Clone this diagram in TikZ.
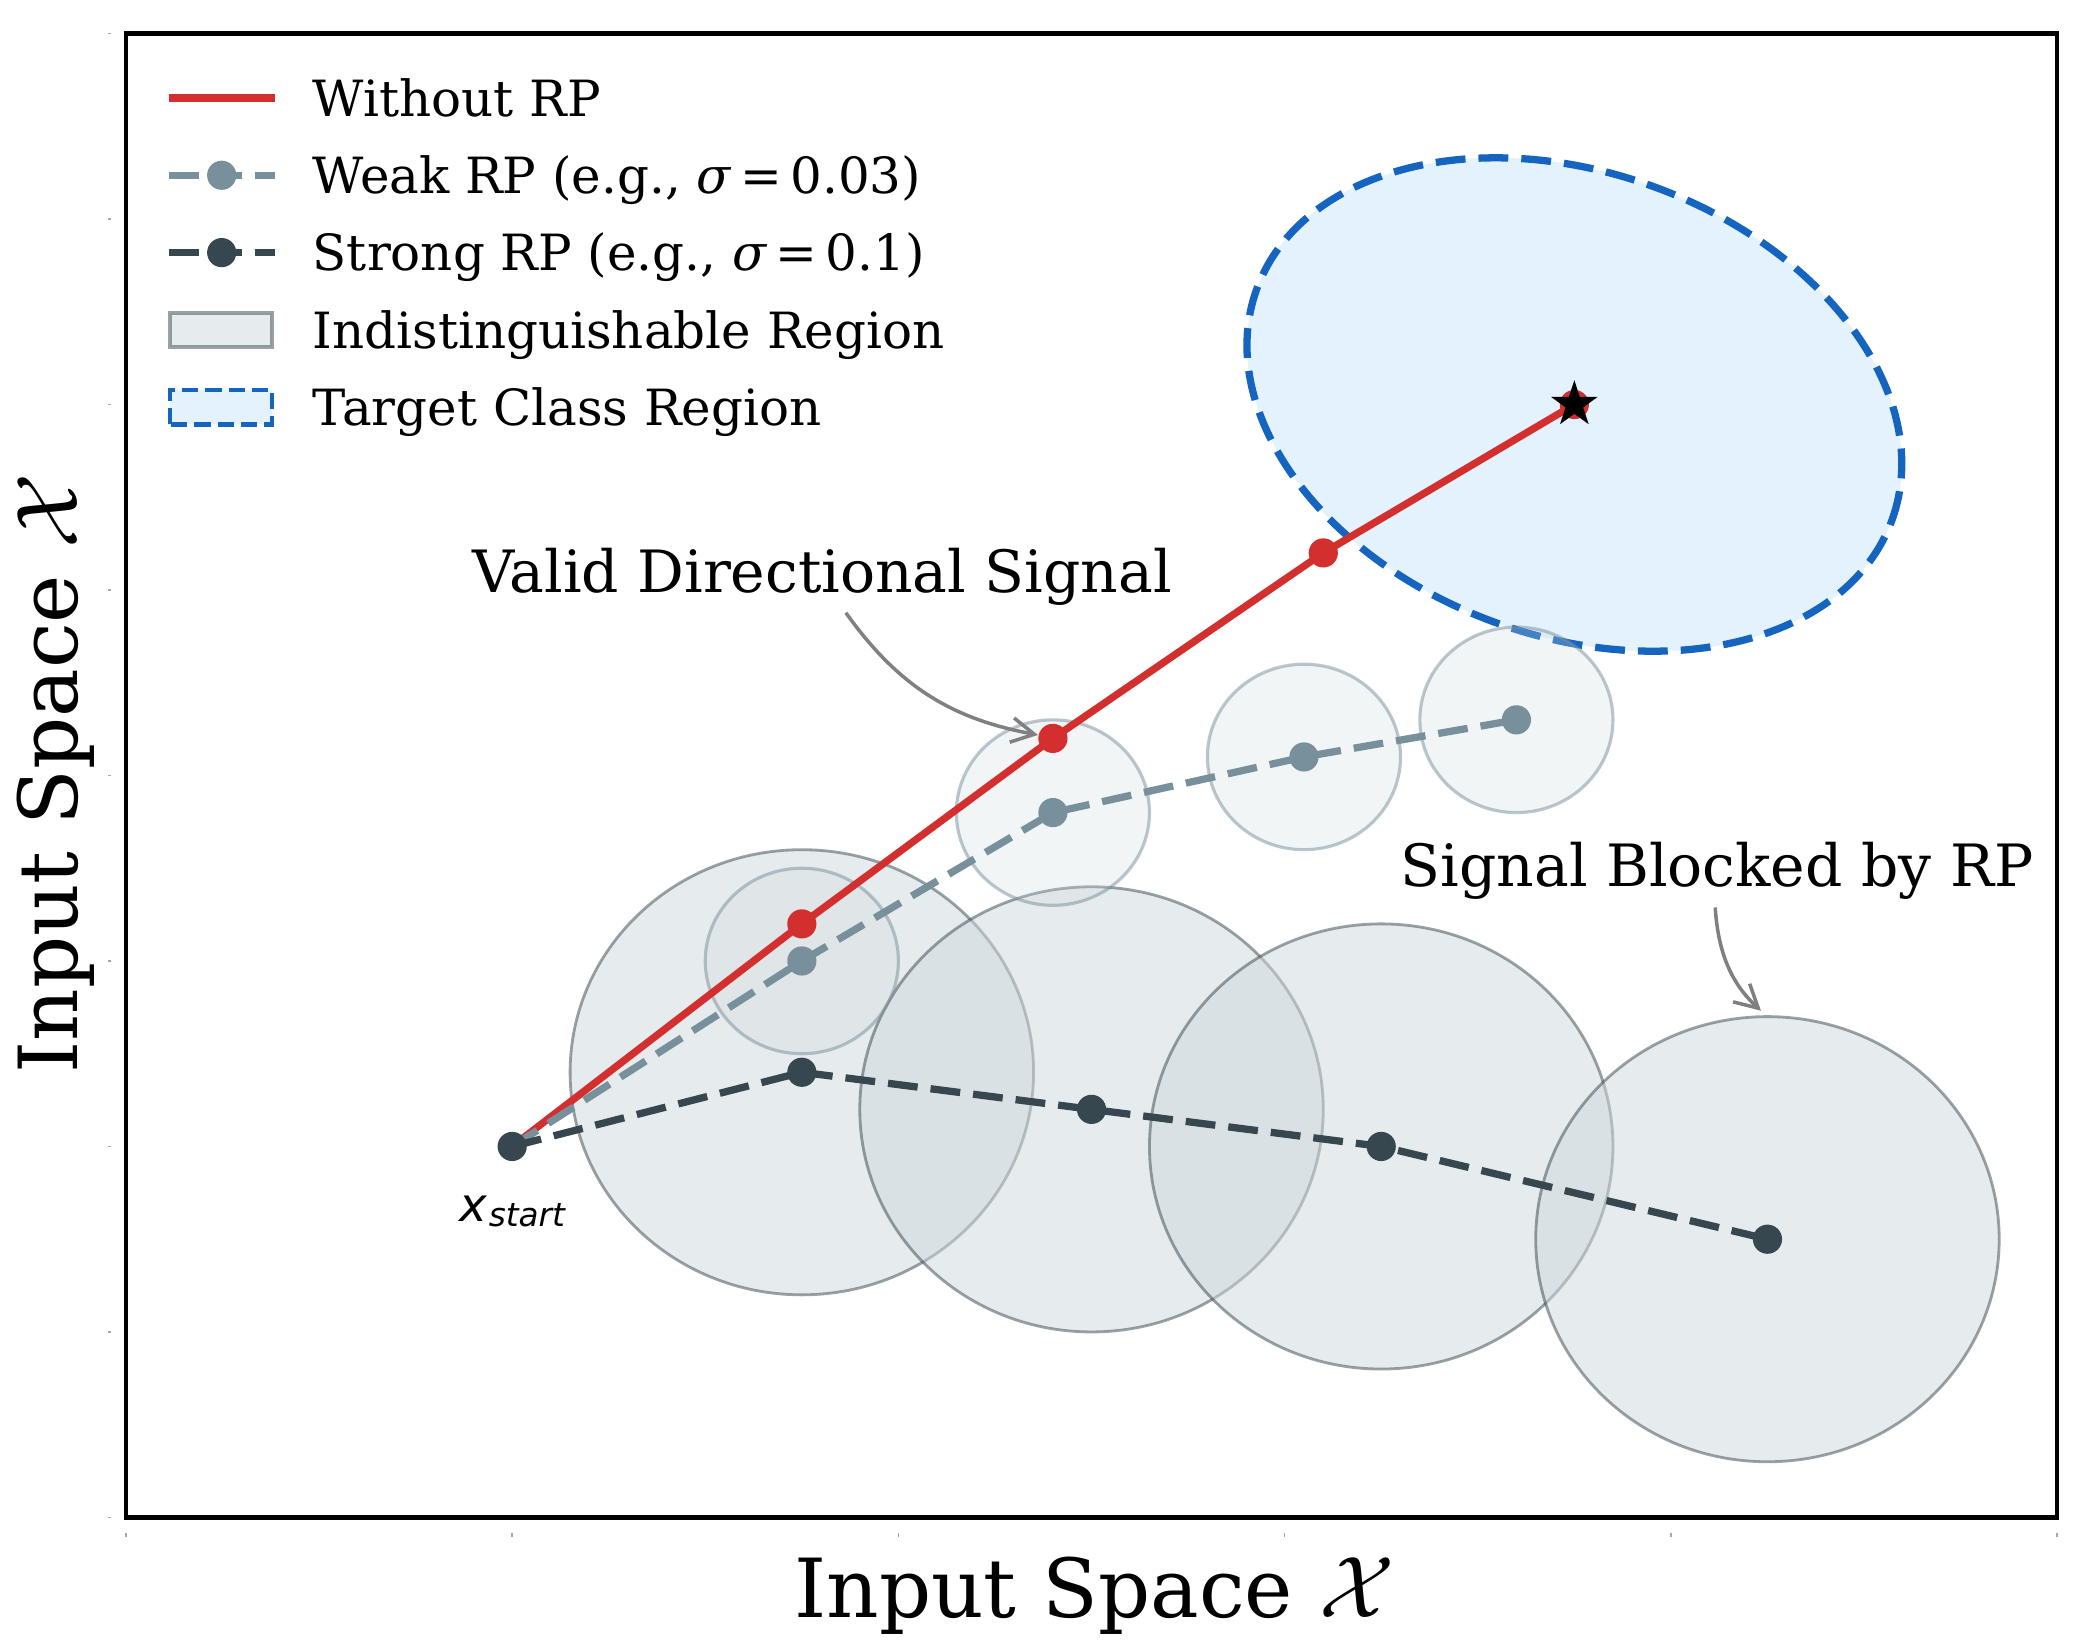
\documentclass[tikz,border=0pt]{standalone}
\usepackage{amsmath}
\usepackage{fontspec}
\setmainfont{DejaVu Serif}
\newfontfamily\labelsans{DejaVu Sans}
\usetikzlibrary{arrows.meta}
\usetikzlibrary{positioning}
\usetikzlibrary{shapes.geometric}

\definecolor{rpred}{HTML}{D32F2F}
\definecolor{rpweak}{HTML}{78909C}
\definecolor{rpstrong}{HTML}{37474F}
\definecolor{tgtedge}{HTML}{1565C0}
\definecolor{tgtfill}{HTML}{E3F2FD}
\definecolor{regfill}{HTML}{CFD8DC}

\begin{document}
\begin{tikzpicture}[x=1.9313cm,y=1.8549cm,
	redline/.style={rpred,line width=2.07pt},
	weakline/.style={rpweak,line width=2.07pt,dash pattern=on 8.5pt off 3.7pt},
	strongline/.style={rpstrong,line width=2.07pt,dash pattern=on 8.5pt off 3.7pt},
	mdot/.style={circle,inner sep=0pt,minimum size=0.292cm},
	bigreg/.style={fill=regfill,fill opacity=0.5,draw=rpstrong,draw opacity=0.5,line width=0.8pt},
	smallreg/.style={fill=regfill,fill opacity=0.25,draw=rpweak,draw opacity=0.5,line width=0.9pt},
	tgtreg/.style={fill=tgtfill,draw=tgtedge,line width=2.07pt,dash pattern=on 8.5pt off 3.7pt},
	annot/.style={draw=gray,line width=1pt,-{Straight Barb[length=6.5pt,width=7pt]}},
	annotext/.style={anchor=base,inner sep=2pt,font=\fontsize{16.6}{20}\selectfont},
	lgtext/.style={anchor=base west,inner sep=0pt,font=\fontsize{14.2}{17}\selectfont},
	axlabel/.style={anchor=base,inner sep=0pt,font=\fontsize{23.2}{28}\selectfont}]
	\useasboundingbox (-0.652,-0.715) rectangle (10.222,8.181);
	\fill[white] (-0.652,-0.715) rectangle (10.222,8.181);
	
	% path points
	\coordinate (s0) at (2,2);
	\coordinate (r1) at (3.5,3.2);
	\coordinate (r2) at (4.8,4.2);
	\coordinate (r3) at (6.2,5.2);
	\coordinate (tc) at (7.5,6.0);
	\coordinate (w1) at (3.5,3.0);
	\coordinate (w2) at (4.8,3.8);
	\coordinate (w3) at (6.1,4.1);
	\coordinate (w4) at (7.2,4.3);
	\coordinate (s1) at (3.5,2.4);
	\coordinate (s2) at (5.0,2.2);
	\coordinate (s3) at (6.5,2.0);
	\coordinate (s4) at (8.5,1.5);
	\coordinate (btop) at (8.5,2.7);
	
	% regions
	\draw[tgtreg,rotate around={-20:(tc)}] (tc) ellipse (1.75 and 1.25);
	\foreach \p in {s1,s2,s3,s4}
	\draw[bigreg] (\p) circle [radius=1.2];
	\foreach \p in {w1,w2,w3,w4}
	\draw[smallreg] (\p) circle [radius=0.5];
	
	% trajectories
	\draw[redline] (s0) -- (r1) -- (r2) -- (r3) -- (tc);
	\foreach \p in {r1,r2,r3,tc}
	\node[mdot,fill=rpred] (m\p) at (\p) {};
	\draw[weakline] (s0) -- (w1) -- (w2) -- (w3) -- (w4);
	\foreach \p in {w1,w2,w3,w4}
	\node[mdot,fill=rpweak] (m\p) at (\p) {};
	\draw[strongline] (s0) -- (s1) -- (s2) -- (s3) -- (s4);
	\foreach \p in {s0,s1,s2,s3,s4}
	\node[mdot,fill=rpstrong] (m\p) at (\p) {};
	\node[star,star points=5,star point ratio=2.618,fill=black,draw=black,line width=0.5pt,inner sep=0pt,minimum size=0.43cm] (goal) at (tc) {};
	
	\node[anchor=base,inner sep=0pt,font=\labelsans\itshape\fontsize{13.3}{16}\selectfont] (xs) at (2,1.593) {x\kern0.5pt\raisebox{-1.4pt}{\fontsize{9.3}{11}\selectfont start}};
	
	% annotations
	\node[annotext] (vds) at (3.606,4.989) {Valid Directional Signal};
	\draw[annot] (vds) to[bend right=22] (mr2);
	\node[annotext] (sbr) at (8.239,3.40) {Signal Blocked by RP};
	\draw[annot,shorten >=2.5pt] (sbr) to[bend right=22] (btop);
	
	% frame and ticks
	\draw[line width=1.3pt] (0,0) rectangle (10,8);
	\foreach \x in {0,2,...,10}
	\draw[gray!70,line width=0.4pt] (\x,-0.085) -- (\x,-0.105);
	\foreach \y in {0,...,8}
	\draw[gray!70,line width=0.4pt] (-0.075,\y) -- (-0.095,\y);
	\node[axlabel] (xlab) at (5.015,-0.542) {Input Space $\mathcal{X}$};
	\node[axlabel,rotate=90] (ylab) at (-0.25,4.01) {Input Space $\mathcal{X}$};
	
	% legend
	\draw[redline] (0.222,7.653) -- (0.770,7.653);
	\draw[weakline] (0.222,7.236) -- (0.770,7.236);
	\node[mdot,fill=rpweak] (lgw) at (0.496,7.236) {};
	\draw[strongline] (0.222,6.819) -- (0.770,6.819);
	\node[mdot,fill=rpstrong] (lgs) at (0.496,6.819) {};
	\draw[fill=regfill,fill opacity=0.5,draw=rpstrong,draw opacity=0.5,line width=1.25pt] (0.228,6.310) rectangle (0.757,6.494);
	\draw[fill=tgtfill,draw=tgtedge,line width=1.25pt,dash pattern=on 4.6pt off 2pt] (0.228,5.893) rectangle (0.757,6.077);
	\foreach \i/\txt in {1/{Without RP},2/{Weak RP (e.g., \textit{σ}\,=\,0.03)},3/{Strong RP (e.g., \textit{σ}\,=\,0.1)},4/{Indistinguishable Region},5/{Target Class Region}}
	\node[lgtext] (lt\i) at (0.964,{7.653-0.417*(\i-1)-0.098}) {\txt};
\end{tikzpicture}
\end{document}
